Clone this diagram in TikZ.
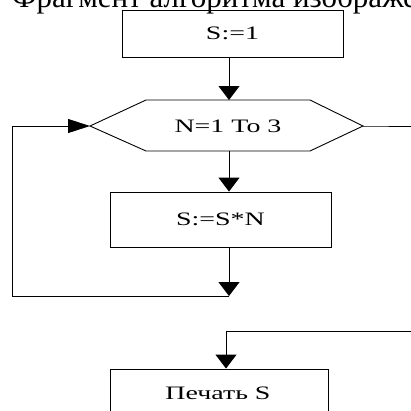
\documentclass[tikz,border=0pt]{standalone}
\usepackage{fontspec}
\setmainfont{Liberation Serif}
\newfontfamily\chartfont[FakeStretch=1.47]{Liberation Serif}
\usetikzlibrary{arrows.meta}

\tikzset{
  block/.style={draw,line width=0.9pt,minimum height=47pt,minimum width=221pt,inner sep=0pt,font=\chartfont\fontsize{19}{19}\selectfont},
  label/.style={inner sep=0pt,font=\chartfont\fontsize{19}{19}\selectfont},
  downarrow/.style={line width=0.9pt,-{Triangle[width=21pt,length=14pt]}},
  sidearrow/.style={line width=0.9pt,-{Triangle[width=14pt,length=22pt]}},
  flow/.style={line width=0.9pt}
}

\begin{document}
\begin{tikzpicture}[x=1pt,y=-1pt]
            \useasboundingbox (0,0) rectangle (411,410);
            \clip (0,0) rectangle (411,410);
            % heading, cut off at the top
            \node[anchor=base west,inner sep=0pt,font=\fontsize{31}{31}\selectfont] (title) at (12,7) {Фрагмент алгоритма изображен};
            % blocks
            \node[block] (start) at (232.5,33.5) {S:=1};
            \node[block,minimum height=55pt] (body) at (220.5,219.5) {S:=S*N};
            \node[block,minimum height=55pt,minimum width=218pt] (print) at (219,396.5) {};
            \node[label] (printtext) at (218,393) {Печать S};
            % loop header
            \coordinate (loopT) at (229,100);
            \coordinate (loopB) at (229,151);
            \coordinate (loopL) at (90,126);
            \coordinate (loopR) at (363,126);
            \draw[flow] (loopL) -- (146,100) -- (310,100) -- (loopR) -- (310,151) -- (146,151) -- cycle;
            \node[label] (loop) at (228,126) {N=1 To 3};
            % connectors
            \coordinate (join) at (229,296);
            \coordinate (corner) at (12,296);
            \coordinate (exitR) at (411,126);
            \coordinate (entryR) at (411,331);
            \coordinate (turn) at (226,331);
            \draw[downarrow] (start.south -| loopT) -- (loopT);
            \draw[downarrow] (loopB) -- (loopB |- body.north);
            \draw[downarrow] (body.south -| join) -- (join);
            \draw[sidearrow] (join) -- (corner) |- (loopL);
            \draw[flow] (loopR) -- ++(4,0) -- (exitR);
            \draw[downarrow] (entryR) -- (turn) -- (turn |- print.north);
        \end{tikzpicture}
\end{document}
